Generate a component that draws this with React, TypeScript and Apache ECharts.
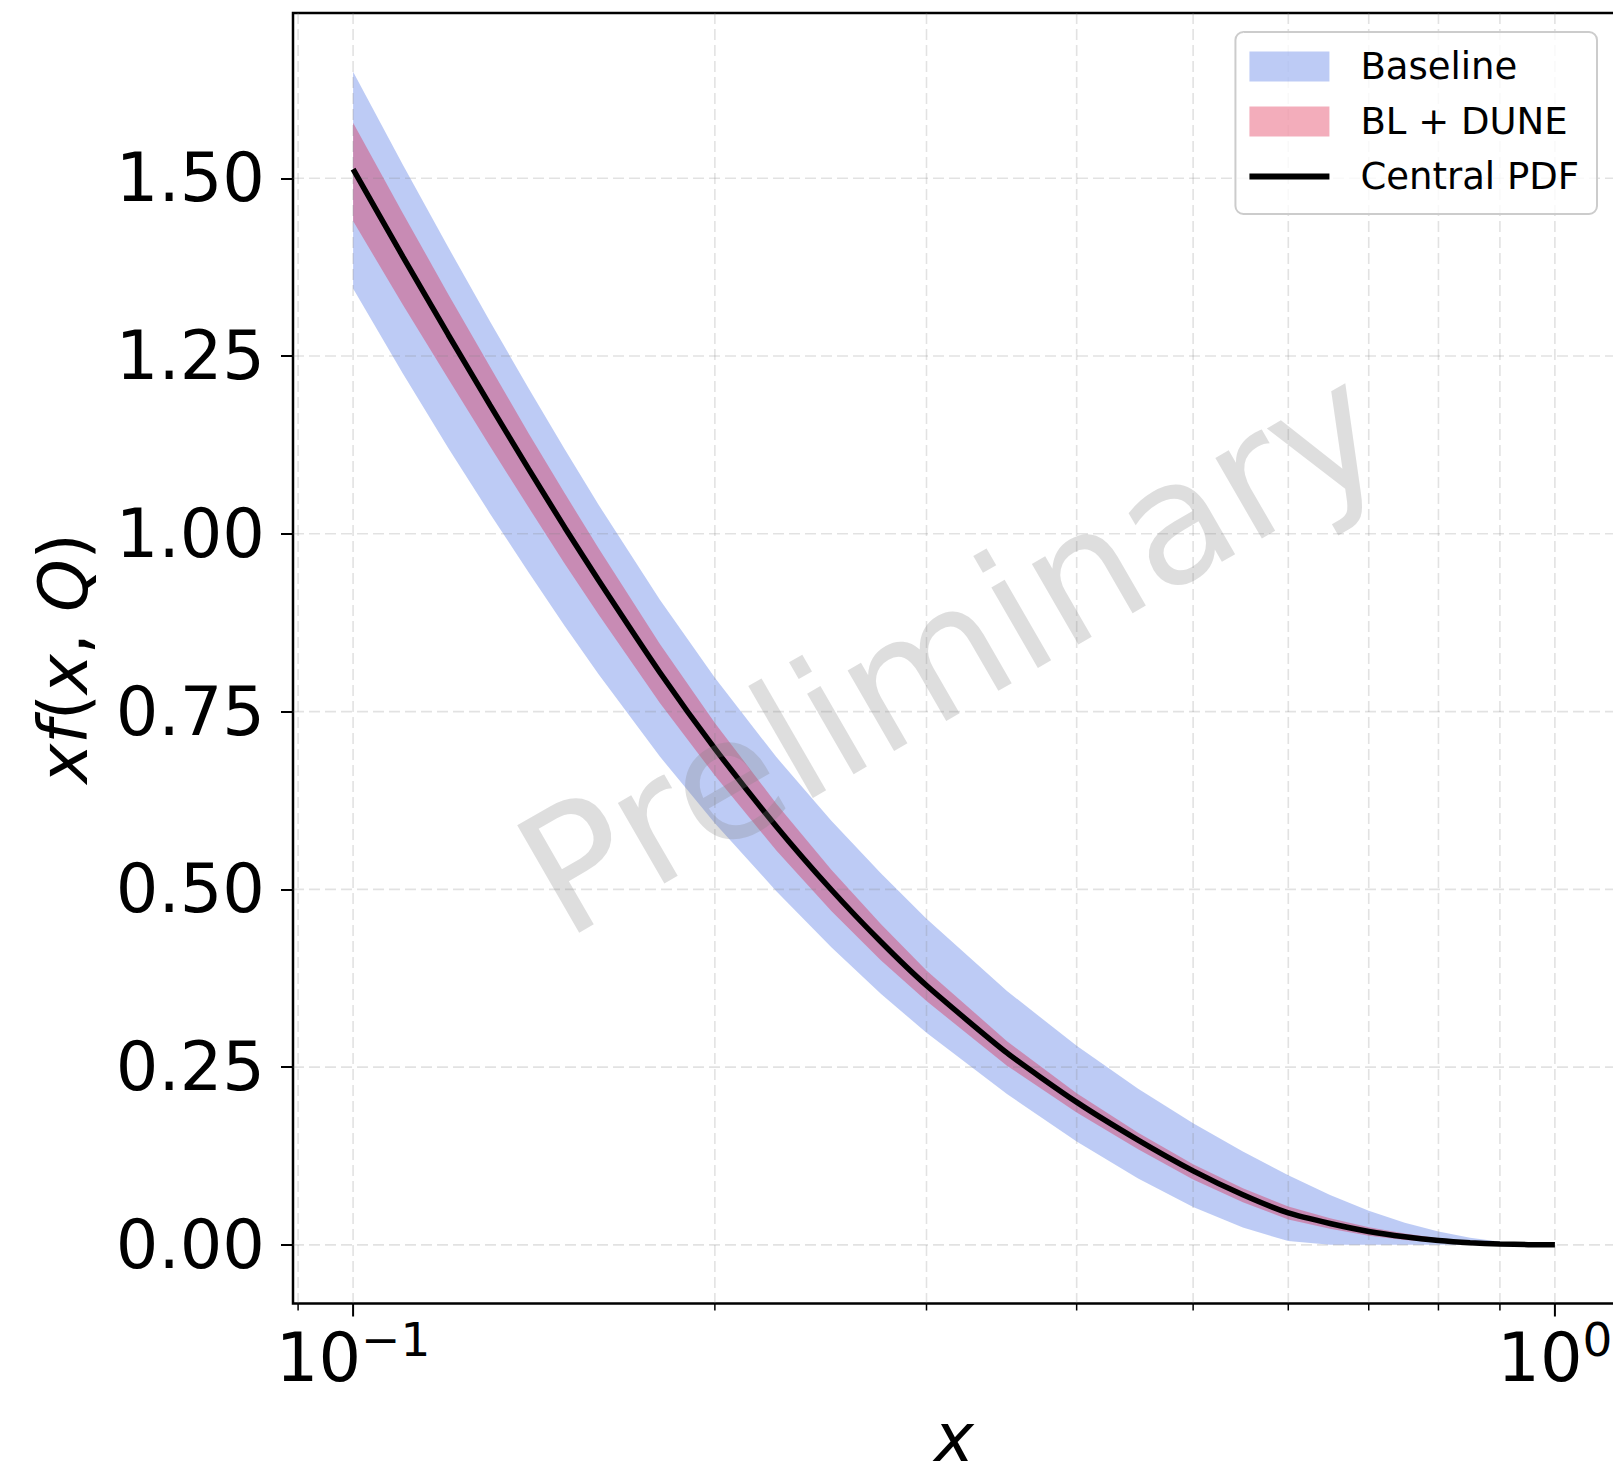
import React, { useEffect, useRef } from 'react';
import * as echarts from 'echarts';

// ---- data ----
const xValues = [0.1, 0.11, 0.12, 0.13, 0.14, 0.15, 0.16, 0.18, 0.2, 0.225, 0.25, 0.275, 0.3, 0.35, 0.4, 0.45, 0.5, 0.55, 0.6, 0.65, 0.7, 0.75, 0.8, 0.85, 0.9, 0.95, 1.0];
const centralPDF = [1.513, 1.390, 1.280, 1.181, 1.091, 1.009, 0.935, 0.805, 0.698, 0.5885, 0.4994, 0.4259, 0.3648, 0.270, 0.2007, 0.1473, 0.104, 0.0703, 0.0448, 0.030, 0.0188, 0.0113, 0.0062, 0.0030, 0.0012, 0.0003, 0];
const baselineUpper = [1.650, 1.519, 1.403, 1.2985, 1.2044, 1.119, 1.0412, 0.9073, 0.7977, 0.686, 0.5964, 0.5221, 0.4588, 0.357, 0.2799, 0.2195, 0.171, 0.1312, 0.098, 0.070, 0.048, 0.0312, 0.0188, 0.0099, 0.0042, 0.001, 0];
const baselineLower = [1.345, 1.2255, 1.1208, 1.0284, 0.9455, 0.8705, 0.8027, 0.6867, 0.593, 0.4973, 0.4185, 0.3529, 0.2982, 0.2121, 0.1452, 0.0932, 0.0533, 0.0243, 0.0053, 0, 0, 0, 0, 0, 0, 0, 0];
const duneUpper = [1.578, 1.451, 1.337, 1.235, 1.141, 1.057, 0.980, 0.845, 0.734, 0.6205, 0.5274, 0.4509, 0.3858, 0.2865, 0.2132, 0.1578, 0.1135, 0.0795, 0.0538, 0.0375, 0.0248, 0.0158, 0.0092, 0.0048, 0.0020, 0.0005, 0];
const duneLower = [1.440, 1.322, 1.218, 1.123, 1.037, 0.958, 0.887, 0.762, 0.660, 0.5545, 0.4694, 0.3999, 0.3428, 0.252, 0.1862, 0.1343, 0.092, 0.0598, 0.0358, 0.0225, 0.0128, 0.0068, 0.0032, 0.0013, 0.0004, 0.0001, 0];

const yTickValues = [0, 0.25, 0.5, 0.75, 1.0, 1.25, 1.5];
const xMajorTicks = [0.1, 1];
const xMinorTicks = [0.09, 0.2, 0.3, 0.4, 0.5, 0.6, 0.7, 0.8, 0.9];

const FONT = 'DejaVu Sans';
const GRID_COLOR = 'rgba(128,128,128,0.23)';
const BASE_COLOR = 'rgba(65,105,225,0.35)';
const DUNE_COLOR = 'rgba(220,20,60,0.35)';

function bandSeries(name: string, lower: number[], upper: number[], color: string, z: number) {
  return {
    name,
    type: 'custom',
    z,
    silent: true,
    itemStyle: { color },
    data: xValues.map((x, i) => [x, lower[i], upper[i]]),
    encode: { x: 0, y: [1, 2] },
    renderItem: (params: any, api: any) => {
      if (params.dataIndex !== 0) return { type: 'group', children: [] };
      const top = xValues.map((x, i) => api.coord([x, upper[i]]));
      const bot = xValues.map((x, i) => api.coord([x, lower[i]])).reverse();
      return {
        type: 'polygon',
        silent: true,
        shape: { points: top.concat(bot) },
        style: { fill: color, stroke: null },
      };
    },
  };
}

function xLabelFormatter(v: number) {
  const e = Math.log10(v);
  const r = Math.round(e);
  if (Math.abs(e - r) > 1e-6) return '';
  return '{b|10}{s|' + (r < 0 ? '\u2212' + -r : String(r)) + '}';
}

export default function App() {
  const ref = useRef<HTMLDivElement>(null);
  useEffect(() => {
    if (!ref.current) return;
    const chart = echarts.init(ref.current, undefined, { renderer: 'svg' });
    const option: any = {
      animation: false,
      backgroundColor: '#ffffff',
      grid: {
        left: 293,
        top: 13,
        width: 1322,
        height: 1290.5,
        show: true,
        borderColor: '#000',
        borderWidth: 2.5,
        backgroundColor: 'rgba(0,0,0,0)',
        outerBoundsMode: 'none',
        containLabel: false,
      },
      legend: {
        orient: 'vertical',
        right: 43,
        top: 32,
        itemWidth: 80,
        itemHeight: 30,
        itemGap: 18,
        padding: [16, 18, 19, 14],
        backgroundColor: 'rgba(255,255,255,0.8)',
        borderColor: '#cccccc',
        borderWidth: 2,
        borderRadius: 8,
        selectedMode: false,
        textStyle: { fontFamily: FONT, fontSize: 37, color: '#000', padding: [0, 0, 0, 26] },
        data: [
          { name: 'Baseline', icon: 'rect', itemStyle: { color: BASE_COLOR } },
          { name: 'BL + DUNE', icon: 'rect', itemStyle: { color: DUNE_COLOR } },
          { name: 'Central PDF', icon: 'path://M0,0L80,0L80,6L0,6Z', itemStyle: { color: '#000' } },
        ],
      },
      xAxis: {
        type: 'log',
        logBase: 10,
        min: 0.089125,
        max: 1.12202,
        axisLine: { show: false },
        axisTick: { show: false },
        splitLine: { show: false },
        minorTick: { show: false },
        minorSplitLine: { show: false },
        axisLabel: {
          showMinLabel: false,
          showMaxLabel: false,
          formatter: xLabelFormatter,
          margin: 12,
          color: '#000',
          rich: {
            b: { fontSize: 67, fontFamily: FONT, color: '#000', verticalAlign: 'bottom' },
            s: { fontSize: 47, fontFamily: FONT, color: '#000', verticalAlign: 'top', padding: [0, 0, 29, 0] },
          },
        },
        name: 'x',
        nameLocation: 'middle',
        nameGap: 101,
        nameTextStyle: { fontSize: 67, fontStyle: 'italic', fontFamily: FONT, color: '#000' },
      },
      yAxis: {
        type: 'value',
        min: -0.0825,
        max: 1.7325,
        axisLine: { show: false },
        splitLine: { show: false },
        axisTick: { show: true, length: 12, lineStyle: { color: '#000', width: 2 }, customValues: yTickValues },
        axisLabel: {
          customValues: yTickValues,
          formatter: (v: number) => v.toFixed(2),
          fontSize: 67,
          fontFamily: FONT,
          color: '#000',
          margin: 28,
        },
        name: '{i|xf}{n|(}{i|x}{n|, }{i|Q}{n|)}',
        nameLocation: 'middle',
        nameGap: 196,
        nameTextStyle: {
          fontSize: 67,
          fontFamily: FONT,
          color: '#000',
          rich: {
            i: { fontSize: 67, fontFamily: FONT, fontStyle: 'italic', color: '#000' },
            n: { fontSize: 67, fontFamily: FONT, color: '#000' },
          },
        },
      },
      graphic: [
        {
          type: 'text',
          x: 951,
          y: 650,
          rotation: Math.PI / 6,
          z: 100,
          silent: true,
          style: {
            text: 'Preliminary',
            fontSize: 170,
            fontFamily: FONT,
            fill: 'rgba(128,128,128,0.26)',
            align: 'center',
            verticalAlign: 'middle',
          },
        },
      ],
      series: [
        bandSeries('Baseline', baselineLower, baselineUpper, BASE_COLOR, 1),
        bandSeries('BL + DUNE', duneLower, duneUpper, DUNE_COLOR, 2),
        {
          name: 'hgrid',
          type: 'custom',
          z: 3,
          silent: true,
          data: yTickValues.map((v) => [1, v]),
          renderItem: (params: any, api: any) => {
            const cs = params.coordSys;
            const p = api.coord([1, api.value(1)]);
            return {
              type: 'line',
              silent: true,
              shape: { x1: cs.x, y1: p[1], x2: cs.x + cs.width, y2: p[1] },
              style: { stroke: GRID_COLOR, lineWidth: 1.6, lineDash: [11, 5] },
            };
          },
        },
        {
          name: 'vgrid',
          type: 'custom',
          z: 3,
          silent: true,
          data: xMinorTicks.concat(xMajorTicks).map((x) => [x, 0]),
          renderItem: (params: any, api: any) => {
            const cs = params.coordSys;
            const p = api.coord([api.value(0), 0]);
            return {
              type: 'line',
              silent: true,
              shape: { x1: p[0], y1: cs.y, x2: p[0], y2: cs.y + cs.height },
              style: { stroke: GRID_COLOR, lineWidth: 1.6, lineDash: [11, 5] },
            };
          },
        },
        {
          name: 'xMajorTickMarks',
          type: 'custom',
          z: 3,
          silent: true,
          data: xMajorTicks.map((x) => [x, 0]),
          renderItem: (params: any, api: any) => {
            const cs = params.coordSys;
            const p = api.coord([api.value(0), 0]);
            const yb = cs.y + cs.height;
            return {
              type: 'line',
              silent: true,
              shape: { x1: p[0], y1: yb, x2: p[0], y2: yb + 13 },
              style: { stroke: '#000', lineWidth: 2 },
            };
          },
        },
        {
          name: 'xMinorTickMarks',
          type: 'custom',
          z: 3,
          silent: true,
          data: xMinorTicks.map((x) => [x, 0]),
          renderItem: (params: any, api: any) => {
            const cs = params.coordSys;
            const p = api.coord([api.value(0), 0]);
            const yb = cs.y + cs.height;
            return {
              type: 'line',
              silent: true,
              shape: { x1: p[0], y1: yb, x2: p[0], y2: yb + 7 },
              style: { stroke: '#000', lineWidth: 1.5 },
            };
          },
        },
        {
          name: 'Central PDF',
          type: 'line',
          z: 5,
          silent: true,
          symbol: 'none',
          showSymbol: false,
          smooth: 0.2,
          data: xValues.map((x, i) => [x, centralPDF[i]]),
          lineStyle: { color: '#000', width: 5.5 },
          itemStyle: { color: '#000' },
        },
      ],
    };
    chart.setOption(option);
    return () => chart.dispose();
  }, []);
  return (
    <div style={{ position: 'absolute', left: 0, top: 0, width: 1613, height: 1480, overflow: 'hidden', background: '#fff' }}>
      <div ref={ref} style={{ width: 1640, height: 1480 }} />
    </div>
  );
}
